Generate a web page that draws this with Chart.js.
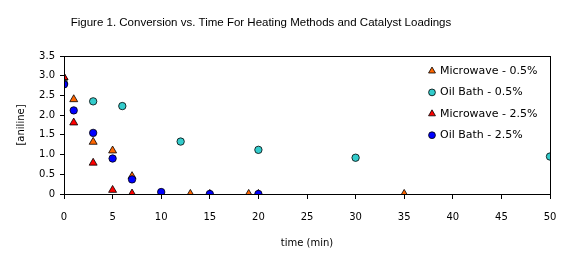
<!DOCTYPE html>
<html>
<head>
<meta charset="utf-8">
<script src="https://cdn.jsdelivr.net/npm/chart.js@4/dist/chart.umd.min.js"></script>
<style>
html,body{margin:0;padding:0;background:#fff;}
#wrap{width:576px;height:265px;position:relative;}
</style>
</head>
<body>
<div id="wrap"><canvas id="c" width="576" height="265"></canvas></div>
<script>
const titleText = "Figure 1. Conversion vs. Time For Heating Methods and Catalyst Loadings";
const xTitle = "time (min)";
const yTitle = "[aniline]";
const seriesNames = ["Microwave - 0.5%", "Oil Bath - 0.5%", "Microwave - 2.5%", "Oil Bath - 2.5%"];

const mw05Time = [0, 1, 3, 5, 7, 13, 19, 35];
const mw05Val  = [2.95, 2.4, 1.32, 1.1, 0.45, 0, 0, 0];

const ob05Time = [0, 3, 6, 12, 20, 30, 50];
const ob05Val  = [2.8, 2.35, 2.23, 1.33, 1.12, 0.92, 0.95];

const mw25Time = [0, 1, 3, 5, 7, 10, 15, 20];
const mw25Val  = [2.96, 1.81, 0.79, 0.1, 0.01, 0, 0, 0];

const ob25Time = [0, 1, 3, 5, 7, 10, 15, 20];
const ob25Val  = [2.78, 2.12, 1.55, 0.9, 0.37, 0.05, 0, 0];

const xTicks = [0, 5, 10, 15, 20, 25, 30, 35, 40, 45, 50];
const yTicks = [0, 0.5, 1, 1.5, 2, 2.5, 3, 3.5];

function pts(t, v){ return t.map((x,i)=>({x:x, y:v[i]})); }

const styles = [
  {bg:'#FF6600', shape:'triangle', r:4.6, order:4},
  {bg:'#33CCCC', shape:'circle', r:3.7, order:3},
  {bg:'#FF0000', shape:'triangle', r:4.6, order:2},
  {bg:'#0000FF', shape:'circle', r:3.7, order:1}
];
const allData = [pts(mw05Time, mw05Val), pts(ob05Time, ob05Val), pts(mw25Time, mw25Val), pts(ob25Time, ob25Val)];

const datasets = allData.map((d,i)=>({
  label: seriesNames[i],
  data: d,
  showLine: false,
  pointStyle: styles[i].shape,
  pointRadius: styles[i].r,
  pointHoverRadius: styles[i].r,
  backgroundColor: styles[i].bg,
  borderColor: '#000',
  pointBorderWidth: 0.8,
  order: styles[i].order
}));

const borderPlugin = {
  id: 'plotBorder',
  afterDatasetsDraw(chart){
    const a = chart.chartArea, ctx = chart.ctx;
    ctx.save();
    ctx.strokeStyle = '#000';
    ctx.lineWidth = 1;
    ctx.strokeRect(Math.round(a.left)+0.5, Math.round(a.top)+0.5, Math.round(a.right-a.left), Math.round(a.bottom-a.top));
    ctx.restore();
  }
};

const titlePlugin = {
  id: 'figTitle',
  afterDraw(chart){
    const ctx = chart.ctx;
    ctx.save();
    ctx.font = '11.5px "Liberation Sans"';
    ctx.fillStyle = '#000';
    ctx.textAlign = 'center';
    ctx.textBaseline = 'middle';
    ctx.fillText(titleText, 261, 23);
    ctx.restore();
  }
};

const legendPlugin = {
  id: 'innerLegend',
  afterDraw(chart){
    const ctx = chart.ctx;
    ctx.save();
    ctx.font = '11px "DejaVu Sans"';
    ctx.textBaseline = 'middle';
    ctx.textAlign = 'left';
    const x0 = 432, y0 = 71, dy = 21.4;
    chart.data.datasets.forEach((ds,i)=>{
      const y = y0 + i*dy;
      ctx.fillStyle = ds.backgroundColor;
      ctx.strokeStyle = '#000';
      ctx.lineWidth = 0.8;
      Chart.helpers.drawPoint(ctx, {pointStyle: ds.pointStyle, radius: ds.pointStyle==='triangle'?4.0:3.4, borderWidth:0.8}, x0, y);
      ctx.fillStyle = '#000';
      ctx.fillText(ds.label, x0+8, y);
    });
    ctx.restore();
  }
};

new Chart(document.getElementById('c'), {
  type: 'scatter',
  data: { datasets },
  plugins: [borderPlugin, titlePlugin, legendPlugin],
  options: {
    responsive: false,
    animation: false,
    events: [],
    layout: { padding: { left: 15, right: 26, top: 56, bottom: 16 } },
    plugins: {
      legend: { display: false },
      tooltip: { enabled: false },
      title: { display: false }
    },
    scales: {
      x: {
        type: 'linear',
        min: 0, max: 50,
        afterBuildTicks(s){ s.ticks = xTicks.map(v=>({value:v})); },
        afterFit(s){ s.height = 55; },
        grid: { display: true, drawOnChartArea: false, drawTicks: true, tickLength: 5, color: '#000', lineWidth: 1 },
        border: { display: true, color: '#000', width: 1 },
        ticks: { color: '#000', font: { family: '"DejaVu Sans"', size: 10 }, padding: 12, maxRotation: 0 },
        title: { display: true, text: xTitle, color: '#000', font: { family: '"DejaVu Sans"', size: 10 }, padding: { top: 0, bottom: 0 } }
      },
      y: {
        type: 'linear',
        min: 0, max: 3.5,
        afterBuildTicks(s){ s.ticks = yTicks.map(v=>({value:v})); },
        afterFit(s){ s.width = 49; },
        grid: { display: true, drawOnChartArea: false, drawTicks: true, tickLength: 4, color: '#000', lineWidth: 1 },
        border: { display: true, color: '#000', width: 1 },
        ticks: { color: '#000', font: { family: '"DejaVu Sans"', size: 10 }, padding: 5 },
        title: { display: true, text: yTitle, color: '#000', font: { family: '"DejaVu Sans"', size: 10 }, padding: { top: 0, bottom: 0 } }
      }
    }
  }
});
</script>
</body>
</html>
